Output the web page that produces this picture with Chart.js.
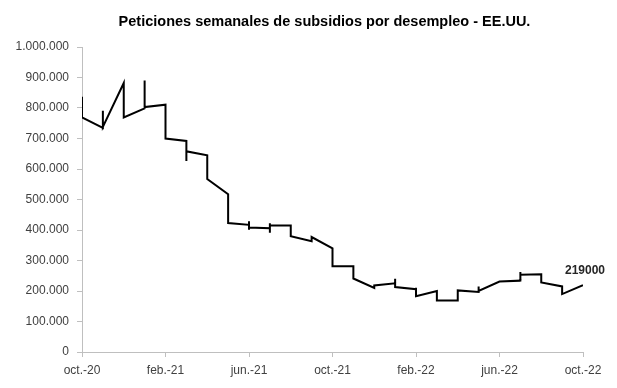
<!DOCTYPE html>
<html>
<head>
<meta charset="utf-8">
<script src="https://cdn.jsdelivr.net/npm/chart.js@4/dist/chart.umd.min.js"></script>
<style>
  body { margin: 0; background: #fff; }
</style>
</head>
<body>
<canvas id="claims" width="617" height="388"></canvas>
<script>
// x position = month index counted from oct.-20 (weeks of the same month share it)
var chartTitle = 'Peticiones semanales de subsidios por desempleo - EE.UU.';
var tickLabels = ['oct.-20', 'feb.-21', 'jun.-21', 'oct.-21', 'feb.-22', 'jun.-22', 'oct.-22'];
var weekMonth = [
    0, 0,
    1, 1, 1,
    2, 2,
    3, 3, 3,
    4, 4,
    5, 5, 5,
    6, 6,
    7, 7,
    8, 8, 8, 8,
    9, 9, 9, 9,
    10, 10,
    11, 11,
    12, 12,
    13, 13,
    14, 14,
    15, 15, 15,
    16, 16, 16,
    17, 17,
    18, 18,
    19, 19, 19,
    20,
    21, 21, 21, 21,
    22, 22,
    23, 23,
    24
];
var weeklyClaims = [
    837000, 769000,
    735000, 791000, 738000,
    882000, 769000,
    799000, 890000, 803000,
    811000, 700000,
    692000, 626000, 658000,
    645000, 567000,
    517000, 423000,
    417000, 429000, 401000, 408000,
    406000, 391000, 422000, 415000,
    415000, 380000,
    363000, 377000,
    340000, 281000,
    281000, 241000,
    210000, 218000,
    225000, 240000, 213000,
    206000, 211000, 183000,
    200000, 169000,
    169000, 202000,
    197000, 215000, 200000,
    231000,
    234000, 231000, 262000, 253000,
    255000, 228000,
    215000, 190000,
    219000
];

var points = weeklyClaims.map(function (v, i) {
    return { x: weekMonth[i], y: v };
});

function dots(v) {
    return String(v).replace(/\B(?=(\d{3})+(?!\d))/g, '.');
}

// title a bit left of the plot centre + label with the last value
var extras = {
    id: 'extras',
    afterDatasetsDraw: function (chart) {
        var area = chart.chartArea;
        var meta = chart.getDatasetMeta(0);
        var pt = meta.data[meta.data.length - 1];
        var ctx = chart.ctx;
        ctx.save();
        ctx.fillStyle = '#000';
        ctx.textAlign = 'center';
        ctx.textBaseline = 'middle';
        ctx.font = 'bold 14.5px "Liberation Sans"';
        ctx.fillText(chartTitle, (area.left + area.right) / 2 - 8, 22);

        ctx.font = 'bold 12px "Liberation Sans"';
        ctx.fillStyle = '#262626';
        ctx.textBaseline = 'bottom';
        ctx.fillText(String(weeklyClaims[weeklyClaims.length - 1]), pt.x + 2, pt.y - 9);
        ctx.restore();
    }
};

var ctx = document.getElementById('claims').getContext('2d');
var chart = new Chart(ctx, {
    type: 'line',
    data: {
        datasets: [{
            data: points,
            borderColor: '#000',
            borderWidth: 2,
            pointRadius: 0,
            tension: 0,
            borderJoinStyle: 'miter',
            fill: false
        }]
    },
    options: {
        responsive: false,
        animation: false,
        layout: { padding: { left: 8, right: 0, top: 47, bottom: 0 } },
        plugins: {
            legend: { display: false },
            tooltip: { enabled: false },
            title: { display: false }
        },
        scales: {
            x: {
                type: 'linear',
                min: 0,
                max: 24,
                ticks: {
                    stepSize: 4,
                    autoSkip: false,
                    maxRotation: 0,
                    padding: 6,
                    color: '#404040',
                    font: { family: '"Liberation Sans"', size: 12 },
                    callback: function (v) { return tickLabels[v / 4]; }
                },
                grid: { drawOnChartArea: false, drawTicks: true, tickLength: 5, color: '#bfbfbf' },
                border: { color: '#bfbfbf' },
                afterFit: function (s) { s.height = 36; s.paddingRight = 34; }
            },
            y: {
                min: 0,
                max: 1000000,
                ticks: {
                    stepSize: 100000,
                    padding: 8,
                    color: '#404040',
                    font: { family: '"Liberation Sans"', size: 12 },
                    callback: function (v) { return dots(v); }
                },
                grid: { drawOnChartArea: false, drawTicks: true, tickLength: 5, color: '#bfbfbf' },
                border: { color: '#bfbfbf' },
                afterFit: function (s) { s.width = 74; }
            }
        }
    },
    plugins: [extras]
});
</script>
</body>
</html>
